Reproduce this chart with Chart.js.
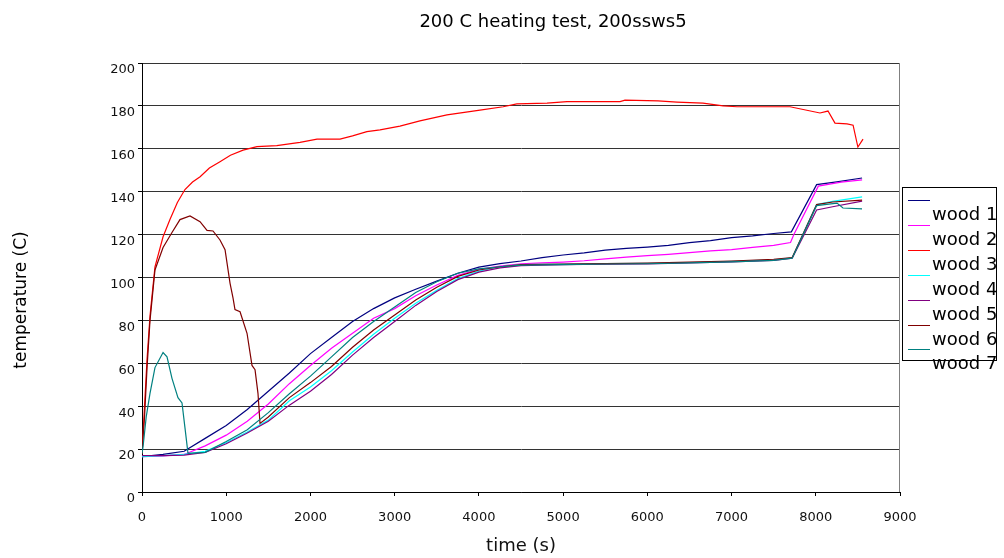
<!DOCTYPE html>
<html>
<head>
<meta charset="utf-8">
<script src="https://cdn.jsdelivr.net/npm/chart.js@4.4.1/dist/chart.umd.min.js"></script>
<style>
    html, body { margin: 0; padding: 0; background: #fff; }
    canvas { display: block; }
</style>
</head>
<body>
<canvas id="heatChart" width="1004" height="558"></canvas>
<script>
const chartTitle = "200 C heating test, 200ssws5";
const xTitle = "time (s)";
const yTitle = "temperature (C)";

const seriesNames = ["wood 1", "wood 2", "wood 3", "wood 4", "wood 5", "wood 6", "wood 7"];
const seriesColors = ["#000080", "#ff00ff", "#ff0000", "#00ffff", "#800080", "#800000", "#008080"];

const xTicks = [0, 1000, 2000, 3000, 4000, 5000, 6000, 7000, 8000, 9000];
const yTicks = [0, 20, 40, 60, 80, 100, 120, 140, 160, 180, 200];

// wood 1
const wood1Time = [0, 250, 500, 750, 1000, 1250, 1500, 1750, 2000, 2250, 2500, 2750, 3000, 3250, 3500, 3750, 4000, 4250, 4500, 4750, 5000, 5250, 5500, 5750, 6000, 6250, 6500, 6750, 7000, 7250, 7500, 7710, 8010, 8250, 8550];
const wood1Temp = [16.5, 17.5, 19, 25, 31, 38.5, 47, 55.5, 64.5, 72, 79.5, 85.5, 90.5, 94.5, 98.3, 102, 104.8, 106.5, 107.7, 109.3, 110.5, 111.5, 112.8, 113.6, 114.2, 115, 116.3, 117.2, 118.6, 119.4, 120.5, 121.3, 143.3, 144.6, 146.4];

// wood 2
const wood2Time = [0, 250, 500, 750, 1000, 1250, 1500, 1750, 2000, 2250, 2500, 2750, 3000, 3250, 3500, 3750, 4000, 4250, 4500, 4750, 5000, 5250, 5500, 5750, 6000, 6250, 6500, 6750, 7000, 7250, 7500, 7700, 7740, 8030, 8300, 8550];
const wood2Temp = [16.5, 16.8, 17.5, 21.5, 26.5, 33, 41, 50.5, 59, 67, 74, 81, 85.5, 91.5, 96.5, 101, 103.8, 105.3, 106.4, 106.8, 107.2, 107.8, 108.7, 109.5, 110.2, 110.8, 111.6, 112.4, 113, 114, 115, 116.3, 120, 142.6, 144.5, 145.5];

// wood 3
const wood3Time = [0, 30, 60, 95, 154, 250, 332, 420, 510, 600, 690, 800, 926, 1050, 1200, 1365, 1600, 1876, 2078, 2351, 2500, 2670, 2826, 3063, 3300, 3621, 4013, 4288, 4450, 4809, 5046, 5676, 5735, 6127, 6352, 6661, 6899, 7065, 7694, 8050, 8145, 8228, 8371, 8443, 8500, 8561];
const wood3Temp = [18, 40, 62, 82, 105, 119, 127, 135, 141, 144.5, 147, 151, 154, 157, 159.4, 161, 161.5, 163, 164.5, 164.5, 166, 168, 168.8, 170.6, 173, 175.8, 178, 179.6, 180.9, 181.3, 182, 182, 182.7, 182.3, 181.8, 181.3, 180, 179.6, 179.6, 176.7, 177.6, 172, 171.6, 171, 160.8, 164.5];

// wood 4
const wood4Time = [0, 250, 500, 750, 1000, 1250, 1500, 1750, 2000, 2250, 2500, 2750, 3000, 3250, 3500, 3750, 4000, 4250, 4500, 5000, 5500, 6000, 6500, 7000, 7500, 7720, 8010, 8200, 8550];
const wood4Temp = [16.5, 17, 17.5, 19, 23, 28, 33.5, 42.5, 49, 56.5, 65.3, 73.5, 81, 88, 94, 99.5, 103, 105, 106, 106.3, 106.5, 106.6, 107, 107.5, 108.2, 109.2, 134, 135.5, 137.6];

// wood 5
const wood5Time = [0, 250, 500, 750, 1000, 1250, 1500, 1750, 2000, 2250, 2500, 2750, 3000, 3250, 3500, 3750, 4000, 4250, 4500, 5000, 5500, 6000, 6500, 7000, 7500, 7720, 8010, 8200, 8550];
const wood5Temp = [17, 17, 17.2, 18.5, 22.5, 27.5, 33, 40.5, 47, 54.8, 63.8, 72, 79.5, 87, 93.5, 99, 102.5, 104.5, 105.5, 106, 106.2, 106.3, 106.8, 107.3, 108, 109, 131.5, 133, 135.6];

// wood 6
const wood6Time = [0, 30, 60, 95, 154, 250, 356, 451, 570, 689, 772, 843, 926, 986, 1045, 1081, 1104, 1164, 1247, 1306, 1342, 1377, 1401, 1500, 1750, 2000, 2250, 2500, 2750, 3000, 3250, 3500, 3750, 4000, 4250, 4500, 5000, 5500, 6000, 6500, 7000, 7500, 7720, 8010, 8200, 8550];
const wood6Temp = [18, 35, 58, 80, 103.5, 114, 121, 127, 128.7, 126, 122, 121.7, 117.5, 113, 97.4, 90.4, 85, 84, 74, 59, 57, 46, 32, 35, 44, 51, 58.5, 67.5, 75.5, 82.5, 89.5, 95.5, 100.5, 103.5, 105, 106, 106.3, 106.5, 106.7, 107.2, 107.7, 108.5, 109.3, 134, 135.2, 136.1];

// wood 7
const wood7Time = [0, 12, 50, 95, 154, 250, 297, 356, 427, 475, 510, 546, 750, 1000, 1250, 1500, 1750, 2000, 2250, 2500, 2750, 3000, 3250, 3500, 3750, 4000, 4250, 4500, 5000, 5500, 6000, 6500, 7000, 7500, 7720, 8010, 8252, 8323, 8549];
const wood7Temp = [18, 21, 35, 46, 58, 65, 63, 53, 44, 41.5, 30, 18, 18.5, 23.5, 29, 37, 45.8, 54, 63, 72, 79.5, 86.2, 93, 98, 102, 104, 105, 105.8, 106, 106.3, 106.4, 106.8, 107.3, 108, 109, 133.5, 134.7, 132.4, 132];

const seriesTimes = [wood1Time, wood2Time, wood3Time, wood4Time, wood5Time, wood6Time, wood7Time];
const seriesTemps = [wood1Temp, wood2Temp, wood3Temp, wood4Temp, wood5Temp, wood6Temp, wood7Temp];

const font = "'DejaVu Sans', sans-serif";

// title, y title, right frame edge and the boxed legend
const decorations = {
    id: "decorations",
    afterDraw(chart) {
        const ctx = chart.ctx;
        const area = chart.chartArea;
        ctx.save();

        ctx.strokeStyle = "#808080";
        ctx.lineWidth = 1;
        ctx.beginPath();
        ctx.moveTo(area.right - 0.5, area.top);
        ctx.lineTo(area.right - 0.5, area.bottom);
        ctx.stroke();

        ctx.fillStyle = "#000";
        ctx.textAlign = "center";
        ctx.textBaseline = "alphabetic";
        ctx.font = "18px " + font;
        ctx.fillText(chartTitle, 553, 27);

        ctx.save();
        ctx.translate(25.5, 300);
        ctx.rotate(-Math.PI / 2);
        ctx.font = "17px " + font;
        ctx.fillText(yTitle, 0, 0);
        ctx.restore();

        ctx.textAlign = "left";
        ctx.font = "18px " + font;
        seriesNames.forEach((name, i) => {
            const y = Math.round(200 + i * 24.9) + 0.5;
            ctx.strokeStyle = seriesColors[i];
            ctx.beginPath();
            ctx.moveTo(908, y);
            ctx.lineTo(930, y);
            ctx.stroke();
            ctx.fillStyle = "#000";
            ctx.fillText(name, 932, 220 + i * 24.9);
        });
        ctx.strokeStyle = "#000";
        ctx.strokeRect(902.5, 187.5, 94, 173);

        ctx.restore();
    },
};

new Chart(document.getElementById("heatChart"), {
    type: "line",
    data: {
        datasets: seriesNames.map((name, i) => ({
            label: name,
            data: seriesTimes[i].map((t, j) => ({ x: t, y: seriesTemps[i][j] })),
            borderColor: seriesColors[i],
            backgroundColor: seriesColors[i],
            borderWidth: 1.2,
            pointRadius: 0,
            tension: 0,
            order: seriesNames.length - i,
        })),
    },
    options: {
        responsive: false,
        animation: false,
        layout: {
            padding: { left: 0, right: 104, top: 63, bottom: 0 },
        },
        plugins: {
            legend: { display: false },
            title: { display: false },
            tooltip: { enabled: false },
        },
        scales: {
            x: {
                type: "linear",
                min: 0,
                max: 9000,
                afterBuildTicks: (scale) => {
                    scale.ticks = xTicks.map((v) => ({ value: v }));
                },
                afterFit: (scale) => {
                    scale.height = 66;
                },
                grid: {
                    drawOnChartArea: false,
                    tickLength: 4,
                    tickColor: "#000",
                },
                border: { color: "#000" },
                ticks: {
                    color: "#111",
                    padding: 14,
                    maxRotation: 0,
                    font: { family: font, size: 13 },
                    callback: (v) => String(v),
                },
                title: {
                    display: true,
                    text: xTitle,
                    color: "#111",
                    font: { family: font, size: 18 },
                    padding: { top: 0, bottom: 1 },
                },
            },
            y: {
                type: "linear",
                min: 0,
                max: 200,
                afterBuildTicks: (scale) => {
                    scale.ticks = yTicks.map((v) => ({ value: v }));
                },
                afterFit: (scale) => {
                    scale.width = 142;
                },
                grid: {
                    color: "#333",
                    tickColor: "#000",
                    tickLength: 4,
                },
                border: { color: "#000" },
                ticks: {
                    color: "#111",
                    padding: 3,
                    labelOffset: 7,
                    font: { family: font, size: 13 },
                    callback: (v) => String(v),
                },
            },
        },
    },
    plugins: [decorations],
});
</script>
</body>
</html>
